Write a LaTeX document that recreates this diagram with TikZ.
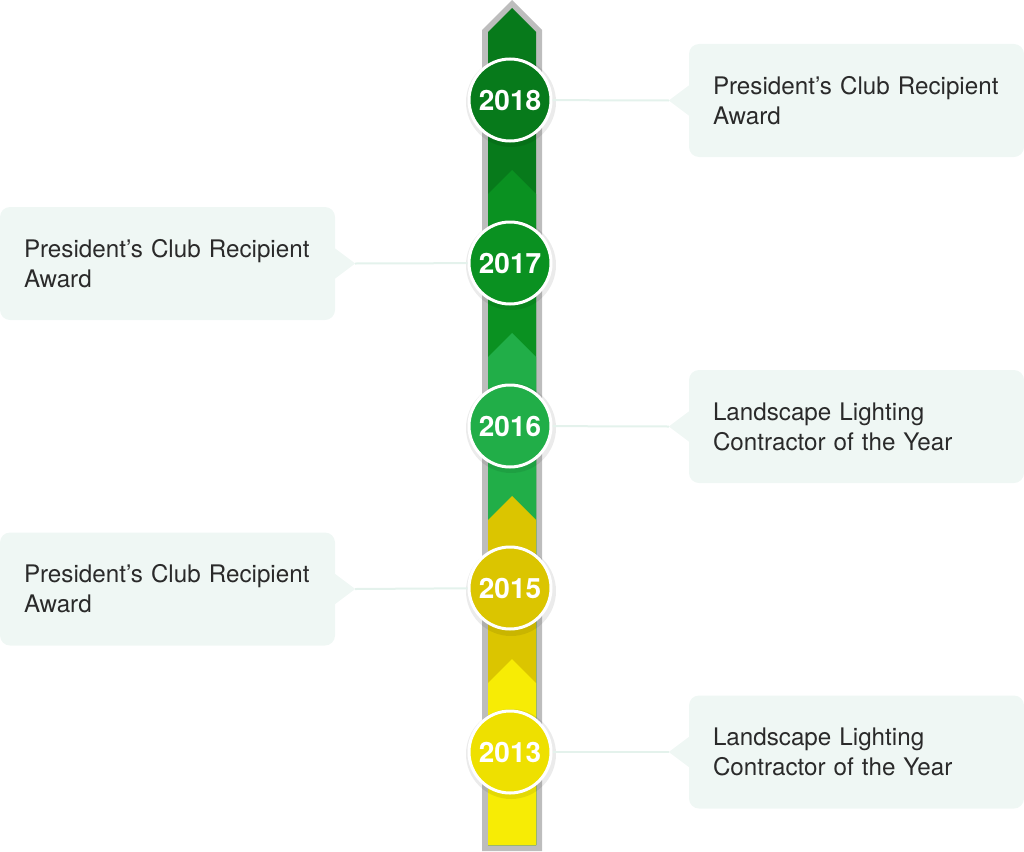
\documentclass[tikz,border=0pt]{standalone}
\usepackage{fontspec}
\setmainfont{TeX Gyre Heros}
\usetikzlibrary{positioning}

\begin{document}
\begin{tikzpicture}[x=1pt,y=-1pt,
  award/.style={fill=boxc, rounded corners=10pt, minimum width=335pt, minimum height=113pt,
    text width=287pt, inner xsep=24pt, align=left, text=textc, font=\fontsize{24.2}{30}\selectfont},
  year/.style={circle, fill=#1, draw=white, line width=3pt, minimum size=82pt, inner sep=0pt,
    text=white, font=\bfseries\fontsize{28}{28}\selectfont},
  link/.style={draw=linkc, line width=2pt}]

% timeline colour scheme
\definecolor{c18}{HTML}{077A1B}
\definecolor{c17}{HTML}{0A9121}
\definecolor{c16}{HTML}{21AE48}
\definecolor{c15}{HTML}{DBC500}
\definecolor{c13}{HTML}{F7EC05}
\definecolor{k13}{HTML}{EEE000} % circle of 2013 a bit darker
\definecolor{rim}{HTML}{BDBDBD}
\definecolor{boxc}{HTML}{EFF7F4}
\definecolor{linkc}{HTML}{E4F2EC}
\definecolor{textc}{HTML}{2A2A2A}

\useasboundingbox (0,0) rectangle (1024,851);

%% the shaft with its arrow tip
\fill [rim] (482,851) -- (482,30) -- (512,0) -- (542,30) -- (542,851) -- cycle;
\fill [c18] (488,845) -- (488,32) -- (512,8) -- (536,32) -- (536,845) -- cycle;
\fill [c17] (488,845) -- (488,194) -- (512,170) -- (536,194) -- (536,845) -- cycle;
\fill [c16] (488,845) -- (488,357) -- (512,333) -- (536,357) -- (536,845) -- cycle;
\fill [c15] (488,845) -- (488,520) -- (512,496) -- (536,520) -- (536,845) -- cycle;
\fill [c13] (488,845) -- (488,683) -- (512,659) -- (536,683) -- (536,845) -- cycle;

%% shadows under the year discs
\fill [black,opacity=.08] (511,102) circle (45pt);
\fill [black,opacity=.08] (511,265) circle (45pt);
\fill [black,opacity=.08] (511,428) circle (45pt);
\fill [black,opacity=.08] (511,591) circle (45pt);
\fill [black,opacity=.08] (511,754) circle (45pt);

%% year discs
\node [year=c18] (y18) at (510,100) {2018};
\node [year=c17] (y17) at (510,263) {2017};
\node [year=c16] (y16) at (510,426) {2016};
\node [year=c15] (y15) at (510,588) {2015};
\node [year=k13] (y13) at (510,752) {2013};

%% awards on the right
\node [award] (a18) at (856.5,100.5) {President’s Club Recipient\\Award};
\node [award] (a16) at (856.5,426.5) {Landscape Lighting\\Contractor of the Year};
\node [award] (a13) at (856.5,752) {Landscape Lighting\\Contractor of the Year};
%% awards on the left
\node [award] (a17) at (167.5,263.5) {President’s Club Recipient\\Award};
\node [award] (a15) at (167.5,589) {President’s Club Recipient\\Award};

%% pointers of the call-outs
\coordinate (p18) at ([xshift=-20pt]a18.west);
\coordinate (p16) at ([xshift=-20pt]a16.west);
\coordinate (p13) at ([xshift=-20pt]a13.west);
\coordinate (p17) at ([xshift=20pt]a17.east);
\coordinate (p15) at ([xshift=20pt]a15.east);
\fill [boxc] ([yshift=15pt]a18.west) -- (p18) -- ([yshift=-15pt]a18.west) -- cycle;
\fill [boxc] ([yshift=15pt]a16.west) -- (p16) -- ([yshift=-15pt]a16.west) -- cycle;
\fill [boxc] ([yshift=15pt]a13.west) -- (p13) -- ([yshift=-15pt]a13.west) -- cycle;
\fill [boxc] ([yshift=15pt]a17.east) -- (p17) -- ([yshift=-15pt]a17.east) -- cycle;
\fill [boxc] ([yshift=15pt]a15.east) -- (p15) -- ([yshift=-15pt]a15.east) -- cycle;

%% links from discs to call-outs
\draw [link] (y18) -- (p18);
\draw [link] (y16) -- (p16);
\draw [link] (y13) -- (p13);
\draw [link] (y17) -- (p17);
\draw [link] (y15) -- (p15);
\end{tikzpicture}
\end{document}
